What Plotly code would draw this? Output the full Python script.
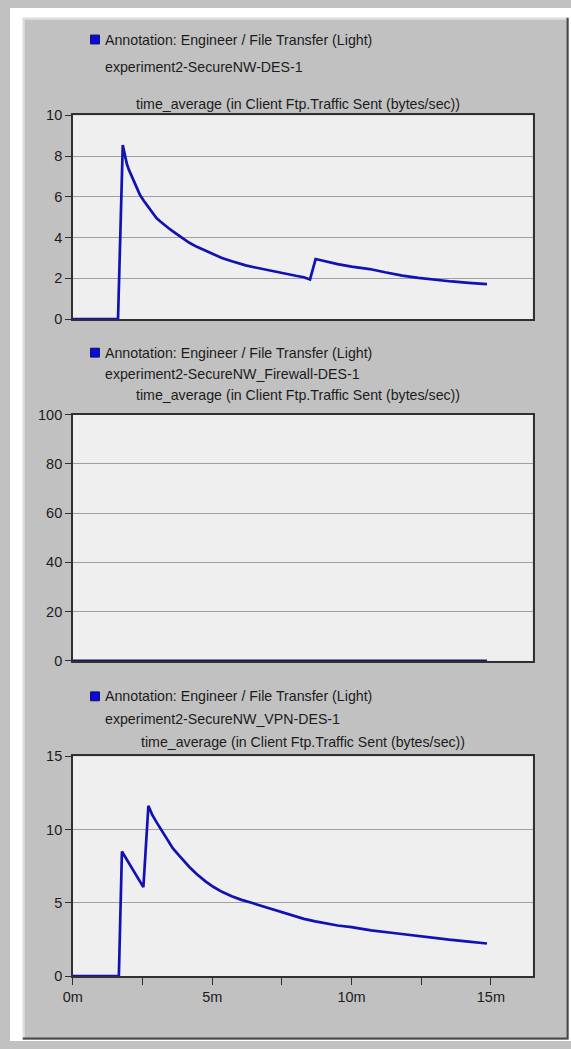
import plotly.graph_objects as go

# ---- data (time in minutes, time-averaged FTP traffic sent in bytes/sec) ----
des_time = [0, 1.62, 1.79, 1.87, 1.94, 2.02, 2.1, 2.2, 2.3, 2.41, 2.55, 2.7, 2.85,
            3.0, 3.15, 3.3, 3.45, 3.59, 3.8, 4.0, 4.18, 4.45, 4.77, 5.05, 5.35,
            5.65, 5.94, 6.2, 6.5, 6.8, 7.12, 7.4, 7.7, 8.0, 8.29, 8.51,
            8.71, 9.1, 9.5, 10.0, 10.65, 11.2, 11.82, 12.4, 13.0, 13.6, 14.2, 14.86]
des_value = [0, 0, 8.54, 8.05, 7.6, 7.3, 7.05, 6.75, 6.45, 6.09, 5.8, 5.5, 5.22,
             4.96, 4.78, 4.6, 4.45, 4.31, 4.1, 3.92, 3.75, 3.55, 3.35, 3.17, 3.0,
             2.87, 2.74, 2.64, 2.55, 2.46, 2.38, 2.29, 2.2, 2.13, 2.06, 1.95,
             2.95, 2.82, 2.7, 2.58, 2.46, 2.3, 2.14, 2.03, 1.93, 1.85, 1.78, 1.72]

firewall_time = [0, 5.0, 10.0, 14.86]
firewall_value = [0, 0, 0, 0]

vpn_time = [0, 1.65, 1.76, 1.9, 2.05, 2.2, 2.37, 2.53, 2.71, 2.85, 3.0, 3.15, 3.3,
            3.45, 3.59, 3.8, 4.0, 4.18, 4.45, 4.77, 5.05, 5.35, 5.7, 6.05, 6.41,
            6.75, 7.12, 7.7, 8.29, 8.7, 9.1, 9.5, 10.0, 10.7, 11.5, 12.2, 12.88,
            13.5, 14.2, 14.86]
vpn_value = [0, 0, 8.5, 8.05, 7.55, 7.05, 6.55, 6.07, 11.63, 11.0, 10.51, 10.05, 9.6,
             9.15, 8.72, 8.25, 7.82, 7.45, 6.95, 6.45, 6.08, 5.75, 5.45, 5.2, 5.0,
             4.8, 4.58, 4.22, 3.9, 3.73, 3.57, 3.45, 3.34, 3.12, 2.94, 2.77, 2.62,
             2.48, 2.35, 2.22]

x_tick_vals = [0, 2.5, 5, 7.5, 10, 12.5, 15]
x_tick_text = ["0m", "", "5m", "", "10m", "", "15m"]

legend_label = "Annotation: Engineer / File Transfer (Light)"
scenario_names = ["experiment2-SecureNW-DES-1",
                  "experiment2-SecureNW_Firewall-DES-1",
                  "experiment2-SecureNW_VPN-DES-1"]
stat_title = "time_average (in Client Ftp.Traffic Sent (bytes/sec))"

y_ranges = [[0, 10], [0, 100], [0, 15]]
y_dticks = [2, 20, 5]

# ---- page geometry (pixels) ----
W, H = 571, 1049
PLOT_L, PLOT_R = 64, 532
PANEL_Y = [(109, 316), (413, 663), (760, 983)]          # top, bottom of each plot
TEXT_Y = [(32, 60, 97), (350, 372, 393), (699, 722, 745)]  # legend line, scenario, title
TITLE_X = [126, 126, 131]
TEXT_X = 95
SQ_X = (82, 91)

FONT = "Liberation Sans, Arial, sans-serif"
TXT = "#1c1c1c"
LINE_BLUE = "#1212b4"
GRID = "#a0a0a0"
FRAME = "#303030"


def px(x):
    return x / W


def py(y):
    return 1 - y / H


fig = go.Figure()

series = [(des_time, des_value), (firewall_time, firewall_value), (vpn_time, vpn_value)]
for i, (t, v) in enumerate(series):
    suffix = "" if i == 0 else str(i + 1)
    fig.add_trace(go.Scatter(
        x=t, y=v, mode="lines",
        line=dict(color=LINE_BLUE if i != 1 else "#14146e", width=2.7),
        xaxis="x" + suffix, yaxis="y" + suffix, showlegend=False,
        hoverinfo="skip",
    ))

layout_axes = {}
for i, (top, bottom) in enumerate(PANEL_Y):
    suffix = "" if i == 0 else str(i + 1)
    last = i == 2
    layout_axes["xaxis" + suffix] = dict(
        domain=[px(PLOT_L), px(PLOT_R)], range=[0, 16.5],
        anchor="y" + suffix,
        showgrid=False, zeroline=False,
        showline=True, mirror=True, linecolor=FRAME, linewidth=1.5,
        tickmode="array", tickvals=x_tick_vals,
        ticktext=x_tick_text if last else [""] * len(x_tick_vals),
        ticks="outside" if last else "", ticklen=7, tickwidth=1.2, tickcolor=FRAME,
        showticklabels=last,
        tickfont=dict(family=FONT, size=14.5, color=TXT),
        fixedrange=True,
    )
    layout_axes["yaxis" + suffix] = dict(
        domain=[py(bottom), py(top)], range=y_ranges[i],
        anchor="x" + suffix,
        dtick=y_dticks[i], tick0=0,
        showgrid=True, gridcolor=GRID, gridwidth=1.3,
        zeroline=False,
        showline=True, mirror=True, linecolor=FRAME, linewidth=1.5,
        ticks="outside", ticklen=6, tickwidth=1.2, tickcolor=FRAME,
        tickfont=dict(family=FONT, size=14.5, color=TXT),
        fixedrange=True,
    )

annotations = []
shapes = []

# white page margin around the grey window body
for x0, y0, x1, y1 in [(0, 0, W, 10), (0, 0, 13, H), (569, 0, W, H), (0, 1048, W, H)]:
    shapes.append(dict(type="rect", xref="paper", yref="paper",
                       x0=px(x0), x1=px(x1), y0=py(y1), y1=py(y0),
                       fillcolor="white", line=dict(width=0), layer="below"))
# window edges: light top/left, dark right/bottom
shapes.append(dict(type="line", xref="paper", yref="paper",
                   x0=px(14), x1=px(14), y0=py(1047), y1=py(10),
                   line=dict(color="#dedede", width=2), layer="below"))
shapes.append(dict(type="line", xref="paper", yref="paper",
                   x0=px(13), x1=px(568), y0=py(11), y1=py(11),
                   line=dict(color="#dedede", width=2), layer="below"))
shapes.append(dict(type="line", xref="paper", yref="paper",
                   x0=px(567.5), x1=px(567.5), y0=py(1047), y1=py(10),
                   line=dict(color="#4a4a4a", width=2), layer="below"))
shapes.append(dict(type="line", xref="paper", yref="paper",
                   x0=px(13), x1=px(568), y0=py(1046.5), y1=py(1046.5),
                   line=dict(color="#4a4a4a", width=2), layer="below"))

for i in range(3):
    y_leg, y_name, y_title = TEXT_Y[i]
    shapes.append(dict(type="rect", xref="paper", yref="paper",
                       x0=px(SQ_X[0]), x1=px(SQ_X[1]),
                       y0=py(y_leg + 4.5), y1=py(y_leg - 4.5),
                       fillcolor="#0a0ae6", line=dict(color="#10104a", width=1)))
    annotations.append(dict(text=legend_label, xref="paper", yref="paper",
                            x=px(TEXT_X), y=py(y_leg), xanchor="left", yanchor="middle",
                            showarrow=False, font=dict(family=FONT, size=14.2, color=TXT)))
    annotations.append(dict(text=scenario_names[i], xref="paper", yref="paper",
                            x=px(TEXT_X), y=py(y_name), xanchor="left", yanchor="middle",
                            showarrow=False, font=dict(family=FONT, size=14.2, color=TXT)))
    annotations.append(dict(text=stat_title, xref="paper", yref="paper",
                            x=px(TITLE_X[i]), y=py(y_title),
                            xanchor="left", yanchor="middle",
                            showarrow=False, font=dict(family=FONT, size=14.2, color=TXT)))

fig.update_layout(
    width=W, height=H,
    margin=dict(l=0, r=0, t=0, b=0),
    paper_bgcolor="#c1c1c1",
    plot_bgcolor="#efefef",
    showlegend=False,
    shapes=shapes,
    annotations=annotations,
    **layout_axes,
)

fig.write_html("out.html", config={"displayModeBar": False})
